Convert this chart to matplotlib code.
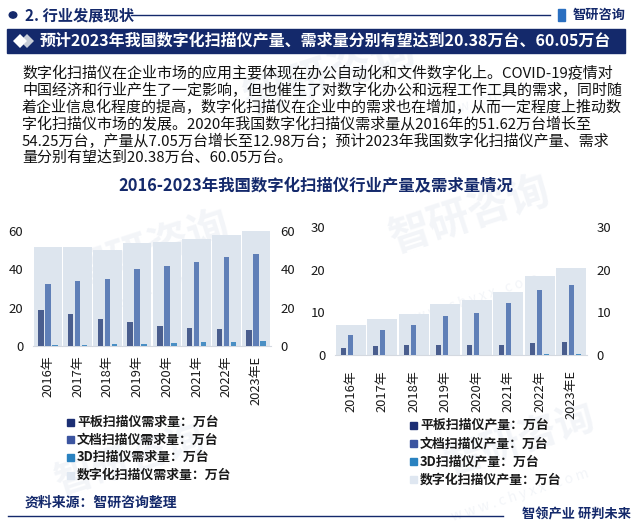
import matplotlib
matplotlib.use("Agg")
import matplotlib.pyplot as plt
import numpy as np
from matplotlib.patches import Rectangle

plt.rcParams['font.family'] = ['Noto Sans CJK SC', 'DejaVu Sans']

# ---------------- data ----------------
years = ["2016年", "2017年", "2018年", "2019年", "2020年", "2021年", "2022年", "2023年E"]
demand_flatbed = [18.7, 16.6, 14.2, 12.5, 10.4, 9.4, 8.8, 8.3]
demand_document = [32.3, 33.8, 34.9, 40.1, 41.6, 43.7, 46.3, 47.9]
demand_3d = [0.5, 0.5, 1.0, 1.0, 1.6, 2.3, 2.1, 2.6]
demand_total = [51.62, 51.7, 49.9, 53.8, 54.25, 55.7, 57.7, 60.05]

prod_flatbed = [1.7, 2.0, 2.3, 2.4, 2.3, 2.4, 2.7, 3.0]
prod_document = [4.8, 5.9, 7.0, 9.1, 9.9, 12.3, 15.2, 16.5]
prod_3d = [0.03, 0.03, 0.03, 0.03, 0.03, 0.05, 0.15, 0.15]
prod_total = [7.05, 8.4, 9.6, 11.9, 12.98, 14.7, 18.6, 20.38]

demand_labels = ["平板扫描仪需求量：万台", "文档扫描仪需求量：万台", "3D扫描仪需求量：万台", "数字化扫描仪需求量：万台"]
prod_labels = ["平板扫描仪产量：万台", "文档扫描仪产量：万台", "3D扫描仪产量：万台", "数字化扫描仪产量：万台"]

header_text = "2. 行业发展现状"
banner_text = "预计2023年我国数字化扫描仪产量、需求量分别有望达到20.38万台、60.05万台"
para_lines = [
    "数字化扫描仪在企业市场的应用主要体现在办公自动化和文件数字化上。COVID-19疫情对",
    "中国经济和行业产生了一定影响，但也催生了对数字化办公和远程工作工具的需求，同时随",
    "着企业信息化程度的提高，数字化扫描仪在企业中的需求也在增加，从而一定程度上推动数",
    "字化扫描仪市场的发展。2020年我国数字化扫描仪需求量从2016年的51.62万台增长至",
    "54.25万台，产量从7.05万台增长至12.98万台；预计2023年我国数字化扫描仪产量、需求",
    "量分别有望达到20.38万台、60.05万台。",
]
chart_title = "2016-2023年我国数字化扫描仪行业产量及需求量情况"
source_text = "资料来源：智研咨询整理"
slogan_text = "智领产业 研判未来"

# ---------------- style ----------------
NAVY = "#14296b"
C_FLAT = "#4a5e8e"
C_DOC = "#5f7fb7"
C_3D = "#4a8fc4"
C_TOT = "#dde5ee"
L_FLAT = "#1c2f74"
L_DOC = "#3c55a0"
L_3D = "#2a82c0"
L_TOT = "#dfe7f1"
TICK_C = "#1a1a1a"

W, H = 633, 526
fig = plt.figure(figsize=(W / 100, H / 100), dpi=100)
fig.patch.set_facecolor("white")


def fx(x):
    return x / W


def fy(y):
    return 1 - y / H


# faint watermarks
wm_kw = dict(color="#c9d3e3", alpha=0.22, rotation=18, ha="center", va="center", zorder=0)
for (x, y, s, fs) in [(330, 75, "智研咨询", 32), (150, 250, "智研咨询", 30), (470, 215, "智研咨询", 30),
                      (130, 460, "智研咨询", 28), (520, 440, "智研咨询", 28)]:
    fig.text(fx(x), fy(y), s, fontsize=fs, fontweight="bold", **wm_kw)
for (x, y) in [(500, 95), (120, 300), (470, 300), (520, 495)]:
    fig.text(fx(x), fy(y), "w w w . c h y x x . c o m", fontsize=10, **wm_kw)

# header
fig.patches.append(plt.Circle((fx(13), fy(15)), 3.8 / W, transform=fig.transFigure,
                              color=NAVY, zorder=3))
fig.text(fx(25), fy(15), header_text, fontsize=11, fontweight="bold", color=NAVY,
         ha="left", va="center", zorder=3)
fig.add_artist(plt.Line2D([fx(131), fx(550)], [fy(15), fy(15)], color=NAVY, lw=1.0, zorder=3))
fig.patches.append(Rectangle((fx(558), fy(21)), 7 / W, 12 / H, transform=fig.transFigure,
                             color="#2a6fc0", zorder=3))
fig.text(fx(573), fy(15), "智研咨询", fontsize=9.5, fontweight="bold", color=NAVY,
         ha="left", va="center", zorder=3)

# banner
fig.patches.append(Rectangle((fx(7), fy(53)), 618 / W, 24 / H, transform=fig.transFigure,
                             color=NAVY, zorder=2))
fig.add_artist(plt.Line2D([fx(27)], [fy(41)], marker="D", markersize=7, color="#c8ced8",
                          markeredgewidth=0, zorder=3))
fig.add_artist(plt.Line2D([fx(20)], [fy(41)], marker="D", markersize=7, color="white",
                          markeredgewidth=0, zorder=4))
fig.text(fx(40), fy(41), banner_text, fontsize=11.5, fontweight="bold", color="white",
         ha="left", va="center", zorder=3)

# paragraph
for i, line in enumerate(para_lines):
    fig.text(fx(22), fy(73 + 17 * i), line, fontsize=10.8, fontweight=500, color="#111111",
             ha="left", va="center", zorder=3)

# chart title
fig.text(fx(316), fy(186), chart_title, fontsize=11.8, fontweight="bold", color=NAVY,
         ha="center", va="center", zorder=3)


def make_chart(rect, flat, doc, d3, tot, yticks, rticks, bw, off, xpad):
    ax = fig.add_axes(rect)
    ax2 = ax.twinx()
    x = np.arange(len(years))
    ax.set_zorder(2)
    ax2.set_zorder(1)
    ax.patch.set_visible(False)
    ax2.bar(x, tot, width=0.96, color=C_TOT, zorder=1)
    ax.bar(x - off, flat, width=bw, color=C_FLAT, zorder=3)
    ax.bar(x, doc, width=bw, color=C_DOC, zorder=3)
    ax.bar(x + off, d3, width=bw, color=C_3D, zorder=3)
    for a, tk in ((ax, yticks), (ax2, rticks)):
        a.set_xlim(-0.5, len(years) - 0.5)
        a.set_ylim(0, tk[-1])
        a.set_yticks(tk)
        a.tick_params(axis="y", length=0, labelsize=9.5, labelcolor=TICK_C, pad=7)
        for s in a.spines.values():
            s.set_visible(False)
    ax.spines["bottom"].set_visible(True)
    ax.spines["bottom"].set_color("#d4d9e0")
    ax.set_xticks(x)
    ax.set_xticklabels(years, rotation=90, fontsize=9.3, fontweight=500, color=TICK_C)
    ax.tick_params(axis="x", length=0, pad=xpad)
    return ax


make_chart([fx(33), fy(346), 238 / W, 115 / H], demand_flatbed, demand_document, demand_3d,
           demand_total, [0, 20, 40, 60], [0, 20, 40, 60], 0.18, 0.235, 7)
make_chart([fx(335), fy(355), 252 / W, 128 / H], prod_flatbed, prod_document, prod_3d,
           prod_total, [0, 10, 20, 30], [0, 10, 20, 30], 0.16, 0.22, 11)


def legend(x0, y0, labels, step):
    cols = [L_FLAT, L_DOC, L_3D, L_TOT]
    for i, (lab, c) in enumerate(zip(labels, cols)):
        y = y0 + step * i
        fig.patches.append(Rectangle((fx(x0), fy(y + 3.5)), 7 / W, 7 / H,
                                     transform=fig.transFigure, color=c, zorder=3))
        fig.text(fx(x0 + 10), fy(y), lab, fontsize=9.3, fontweight="bold", color="#1a1a1a",
                 ha="left", va="center", zorder=3)


legend(67, 422, demand_labels, 17.7)
legend(410, 425, prod_labels, 18.3)

# footer
fig.text(fx(25), fy(503), source_text, fontsize=10, fontweight="bold", color=NAVY,
         ha="left", va="center", zorder=3)
fig.add_artist(plt.Line2D([fx(8), fx(503)], [fy(516), fy(516)], color=NAVY, lw=1.0, zorder=3))
fig.text(fx(522), fy(514), slogan_text, fontsize=9.5, fontweight="bold", color=NAVY,
         ha="left", va="center", zorder=3)

fig.savefig("out.png", dpi=100, facecolor="white")
